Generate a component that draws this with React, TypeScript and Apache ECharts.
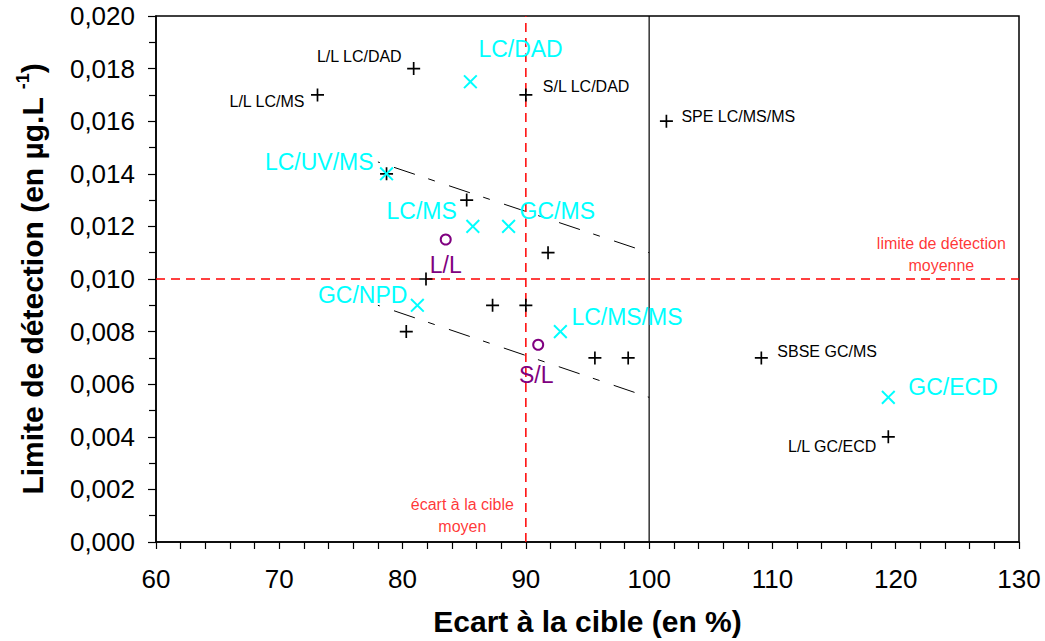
import React, { useEffect, useRef } from "react";
import * as echarts from "echarts";

// ---- data ----
const labNames = ["L/L LC/DAD", "L/L LC/MS", "S/L LC/DAD", "SPE LC/MS/MS", "", "", "", "", "", "", "", "", "", "SBSE GC/MS", "L/L GC/ECD"];
const labX = [80.9, 73.1, 90.0, 101.4, 78.7, 85.2, 91.8, 81.9, 87.3, 90.0, 80.3, 95.6, 98.3, 109.1, 119.4];
const labY = [0.018, 0.017, 0.017, 0.016, 0.014, 0.013, 0.011, 0.010, 0.009, 0.009, 0.008, 0.007, 0.007, 0.007, 0.004];

const techNames = ["LC/DAD", "LC/UV/MS", "LC/MS", "GC/MS", "GC/NPD", "LC/MS/MS", "GC/ECD"];
const techX = [85.5, 78.7, 85.7, 88.6, 81.2, 92.8, 119.4];
const techY = [0.0175, 0.014, 0.012, 0.012, 0.009, 0.008, 0.0055];

const avgNames = ["L/L", "S/L"];
const avgX = [83.5, 91.0];
const avgY = [0.0115, 0.0075];

const xRange = [60, 130];
const yRange = [0, 0.02];
const meanTargetGap = 90; // écart à la cible moyen
const meanDetection = 0.010; // limite de détection moyenne
const targetLine = 100;

const bandUpperX = [78, 100];
const bandUpperY = [0.01445, 0.011];
const bandLowerX = [78, 100];
const bandLowerY = [0.009, 0.0055];

const noteTexts = ["limite de détection\nmoyenne", "écart à la cible\nmoyen"];
const noteX = [123.7, 84.85];
const noteY = [0.01092, 0.00102];

// ---- label placement (style, kept apart from data) ----
type LL = { align: "left" | "right" | "center"; dx: number; dy: number };
const labelLayout: Record<string, LL> = {
  "L/L LC/DAD": { align: "right", dx: -12, dy: -12 },
  "L/L LC/MS": { align: "right", dx: -13, dy: 7 },
  "S/L LC/DAD": { align: "left", dx: 17, dy: -8 },
  "SPE LC/MS/MS": { align: "left", dx: 15, dy: -5 },
  "SBSE GC/MS": { align: "left", dx: 16, dy: -6 },
  "L/L GC/ECD": { align: "right", dx: -12, dy: 10 },
  "LC/DAD": { align: "left", dx: 8, dy: -33 },
  "LC/UV/MS": { align: "right", dx: -13, dy: -12 },
  "LC/MS": { align: "right", dx: -16, dy: -15 },
  "GC/MS": { align: "left", dx: 11, dy: -15 },
  "GC/NPD": { align: "right", dx: -10, dy: -10 },
  "LC/MS/MS": { align: "left", dx: 11, dy: -15 },
  "GC/ECD": { align: "left", dx: 20, dy: -10 },
  "L/L": { align: "center", dx: 0, dy: 25 },
  "S/L": { align: "center", dx: -2, dy: 30 },
};

const FONT = "'Liberation Sans', Arial, sans-serif";
const PLUS = "path://M0,87H87V0H113V87H200V113H113V200H87V113H0Z";
const CROSS = "path://M0,89H89V0H111V89H200V111H111V200H89V111H0Z";

function buildItems(names: string[], xs: number[], ys: number[], fontSize: number, color: string) {
  return xs.map((x, i) => {
    const name = names[i];
    const lay = labelLayout[name];
    return {
      name,
      value: [x, ys[i]],
      label: lay
        ? {
            show: true,
            position: "inside",
            align: lay.align,
            verticalAlign: "middle",
            offset: [lay.dx, lay.dy],
            formatter: name,
            fontSize,
            color,
            fontFamily: FONT,
          }
        : { show: false },
    };
  });
}

function refLine(name: string, pts: number[][], lineStyle: any) {
  return { type: "line", name, data: pts, symbol: "none", lineStyle: { opacity: 1, ...lineStyle }, silent: true, z: 1 };
}

export default function App() {
  const ref = useRef<HTMLDivElement>(null);
  useEffect(() => {
    if (!ref.current) return;
    const chart = echarts.init(ref.current, undefined, { renderer: "svg" });
    const dashBand = () => ({ color: "#000", width: 1, type: [22, 14, 7, 15], dashOffset: 41 });
    const redDash = () => ({ color: "#ff0000", width: 1.5, type: [9, 6] });
    chart.setOption({
      animation: false,
      backgroundColor: "#fff",
      grid: { left: 156, right: 26, top: 16, bottom: 95, show: true, borderColor: "#000", borderWidth: 1.5, backgroundColor: "transparent" },
      xAxis: {
        type: "value",
        min: xRange[0],
        max: xRange[1],
        interval: 10,
        name: "Ecart à la cible (en %)",
        nameLocation: "middle",
        nameGap: 64,
        nameTextStyle: { fontSize: 30, fontWeight: "bold", color: "#000", fontFamily: FONT },
        axisLine: { show: true, lineStyle: { color: "#000", width: 1.5 } },
        axisTick: { show: true, length: 7, lineStyle: { color: "#000", width: 1.2 } },
        minorTick: { show: true, splitNumber: 5, length: 7, lineStyle: { color: "#000", width: 1.2 } },
        splitLine: { show: false },
        axisLabel: { fontSize: 26, color: "#000", margin: 24, fontFamily: FONT },
      },
      yAxis: {
        type: "value",
        min: yRange[0],
        max: yRange[1],
        interval: 0.002,
        name: "Limite de détection (en µg.L {sup|-1})",
        nameLocation: "middle",
        nameGap: 106,
        nameRotate: 90,
        nameTextStyle: {
          fontSize: 30,
          fontWeight: "bold",
          color: "#000",
          fontFamily: FONT,
          lineHeight: 36,
          rich: { sup: { fontSize: 18, fontWeight: "bold", color: "#000", fontFamily: FONT, lineHeight: 19, verticalAlign: "top" } },
        },
        axisLine: { show: true, lineStyle: { color: "#000", width: 1.5 } },
        axisTick: { show: true, length: 8, lineStyle: { color: "#000", width: 1.2 } },
        minorTick: { show: true, splitNumber: 2, length: 7, lineStyle: { color: "#000", width: 1.2 } },
        splitLine: { show: false },
        axisLabel: {
          fontSize: 26,
          color: "#000",
          margin: 21,
          fontFamily: FONT,
          formatter: (v: number) => v.toFixed(3).replace(".", ","),
        },
      },
      series: [
        refLine("targetLine", [[targetLine, yRange[0]], [targetLine, yRange[1]]], { color: "#000", width: 1.2, type: "solid" }),
        refLine("meanDetection", [[xRange[0], meanDetection], [xRange[1], meanDetection]], redDash()),
        refLine("meanTargetGap", [[meanTargetGap, yRange[0]], [meanTargetGap, yRange[1]]], redDash()),
        refLine("bandUpper", bandUpperX.map((x, i) => [x, bandUpperY[i]]), dashBand()),
        refLine("bandLower", bandLowerX.map((x, i) => [x, bandLowerY[i]]), dashBand()),
        {
          type: "scatter",
          name: "labs",
          symbol: PLUS,
          symbolSize: 13,
          itemStyle: { color: "#000", opacity: 1 },
          data: buildItems(labNames, labX, labY, 16, "#000"),
          silent: true,
          z: 3,
        },
        {
          type: "scatter",
          name: "techniques",
          symbol: CROSS,
          symbolSize: 18,
          symbolRotate: 45,
          itemStyle: { color: "#00ffff", opacity: 1 },
          data: buildItems(techNames, techX, techY, 23, "#00ffff"),
          silent: true,
          z: 4,
        },
        {
          type: "scatter",
          name: "averages",
          symbol: "circle",
          symbolSize: 10,
          itemStyle: { color: "rgba(0,0,0,0)", borderColor: "#800080", borderWidth: 2, opacity: 1 },
          data: buildItems(avgNames, avgX, avgY, 23, "#800080"),
          silent: true,
          z: 5,
        },
        {
          type: "scatter",
          name: "notes",
          symbolSize: 0,
          silent: true,
          z: 6,
          data: noteX.map((x, i) => ({ value: [x, noteY[i]], name: noteTexts[i] })),
          label: {
            show: true,
            position: "inside",
            align: "center",
            verticalAlign: "middle",
            formatter: (p: any) => p.name,
            fontSize: 16,
            lineHeight: 22,
            color: "#ff0000",
            fontFamily: FONT,
          },
        },
      ],
    });
    return () => chart.dispose();
  }, []);
  return <div ref={ref} style={{ position: "fixed", left: 0, top: 0, width: 1045, height: 641 }} />;
}
